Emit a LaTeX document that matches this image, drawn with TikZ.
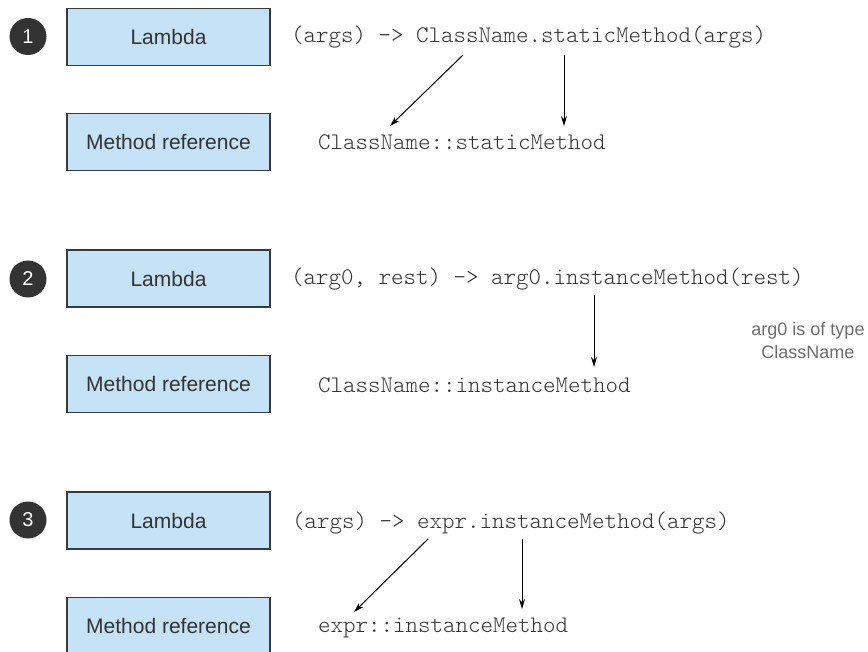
\documentclass[tikz,border=0pt]{standalone}
\usepackage{fontspec}
\setmainfont{Liberation Sans}
\setmonofont{Latin Modern Mono Light}
\usetikzlibrary{arrows.meta,positioning}
\definecolor{boxblue}{HTML}{C6E2F7}
\definecolor{boxline}{HTML}{3A3A3A}
\definecolor{textgray}{HTML}{333333}
\definecolor{notegray}{HTML}{6E6E6E}
\tikzset{
    %Define standard arrow tip
    >={Stealth[length=10pt,width=6pt]},
    %Define style for boxes
    boks/.style={
           rectangle,
           draw=boxline,
           line width=1.2pt,
           fill=boxblue,
           text=textgray,
           minimum width=203pt,
           minimum height=57pt,
           font=\fontsize{21}{25}\selectfont},
    % Define style for numbered circles
    tall/.style={
           circle,
           fill=textgray,
           text=white,
           minimum size=37pt,
           inner sep=0pt,
           font=\fontsize{20}{24}\selectfont},
    % Define style for code lines
    kode/.style={
           anchor=base west,
           inner sep=0pt,
           text=textgray,
           font=\ttfamily\fontsize{23.8}{28}\selectfont},
    % Define style for side note
    merk/.style={
           align=center,
           text=notegray,
           font=\fontsize{18}{23}\selectfont},
    % Define arrow style
    pil/.style={
           ->,
           line width=1pt}
}

\begin{document}
\begin{tikzpicture}[x=1pt, y=-1pt, node distance=47pt]
  \useasboundingbox (0,0) rectangle (868,652);
  % first case: static method
  \node[tall] (nr1) at (28,36.5) {1};
  \node[boks] (lambda1) at (168.5,37) {Lambda};
  \node[boks,below=of lambda1] (ref1) {Method reference};
  \node[kode] (lamcode1) at (291,43) {(args) -> ClassName.staticMethod(args)};
  \node[kode] (refcode1) at (318,150) {ClassName::staticMethod};
  \coordinate (a1) at (463,55);
  \coordinate (b1) at (390,126);
  \coordinate (c1) at (564,55);
  \coordinate (d1) at (564,126);
  \draw[pil] (a1) -- (b1);
  \draw[pil] (c1) -- (d1);

  % second case: instance method of an arbitrary object
  \node[tall] (nr2) at (28,279) {2};
  \node[boks] (lambda2) at (168.5,278.5) {Lambda};
  \node[boks,below=of lambda2] (ref2) {Method reference};
  \node[kode] (lamcode2) at (291,285) {(arg0, rest) -> arg0.instanceMethod(rest)};
  \node[kode] (refcode2) at (318,392) {ClassName::instanceMethod};
  \node[merk] (note2) at (808,341) {arg0 is of type\\ClassName};
  \coordinate (c2) at (594,295);
  \coordinate (d2) at (594,367);
  \draw[pil] (c2) -- (d2);

  % third case: instance method of an existing object
  \node[tall] (nr3) at (28,520) {3};
  \node[boks] (lambda3) at (168.5,520.5) {Lambda};
  \node[boks,below=of lambda3] (ref3) {Method reference};
  \node[kode] (lamcode3) at (292,528) {(args) -> expr.instanceMethod(args)};
  \node[kode] (refcode3) at (318,632) {expr::instanceMethod};
  \coordinate (a3) at (428,539);
  \coordinate (b3) at (354,612);
  \coordinate (c3) at (522,539);
  \coordinate (d3) at (522,609);
  \draw[pil] (a3) -- (b3);
  \draw[pil] (c3) -- (d3);
\end{tikzpicture}
\end{document}
